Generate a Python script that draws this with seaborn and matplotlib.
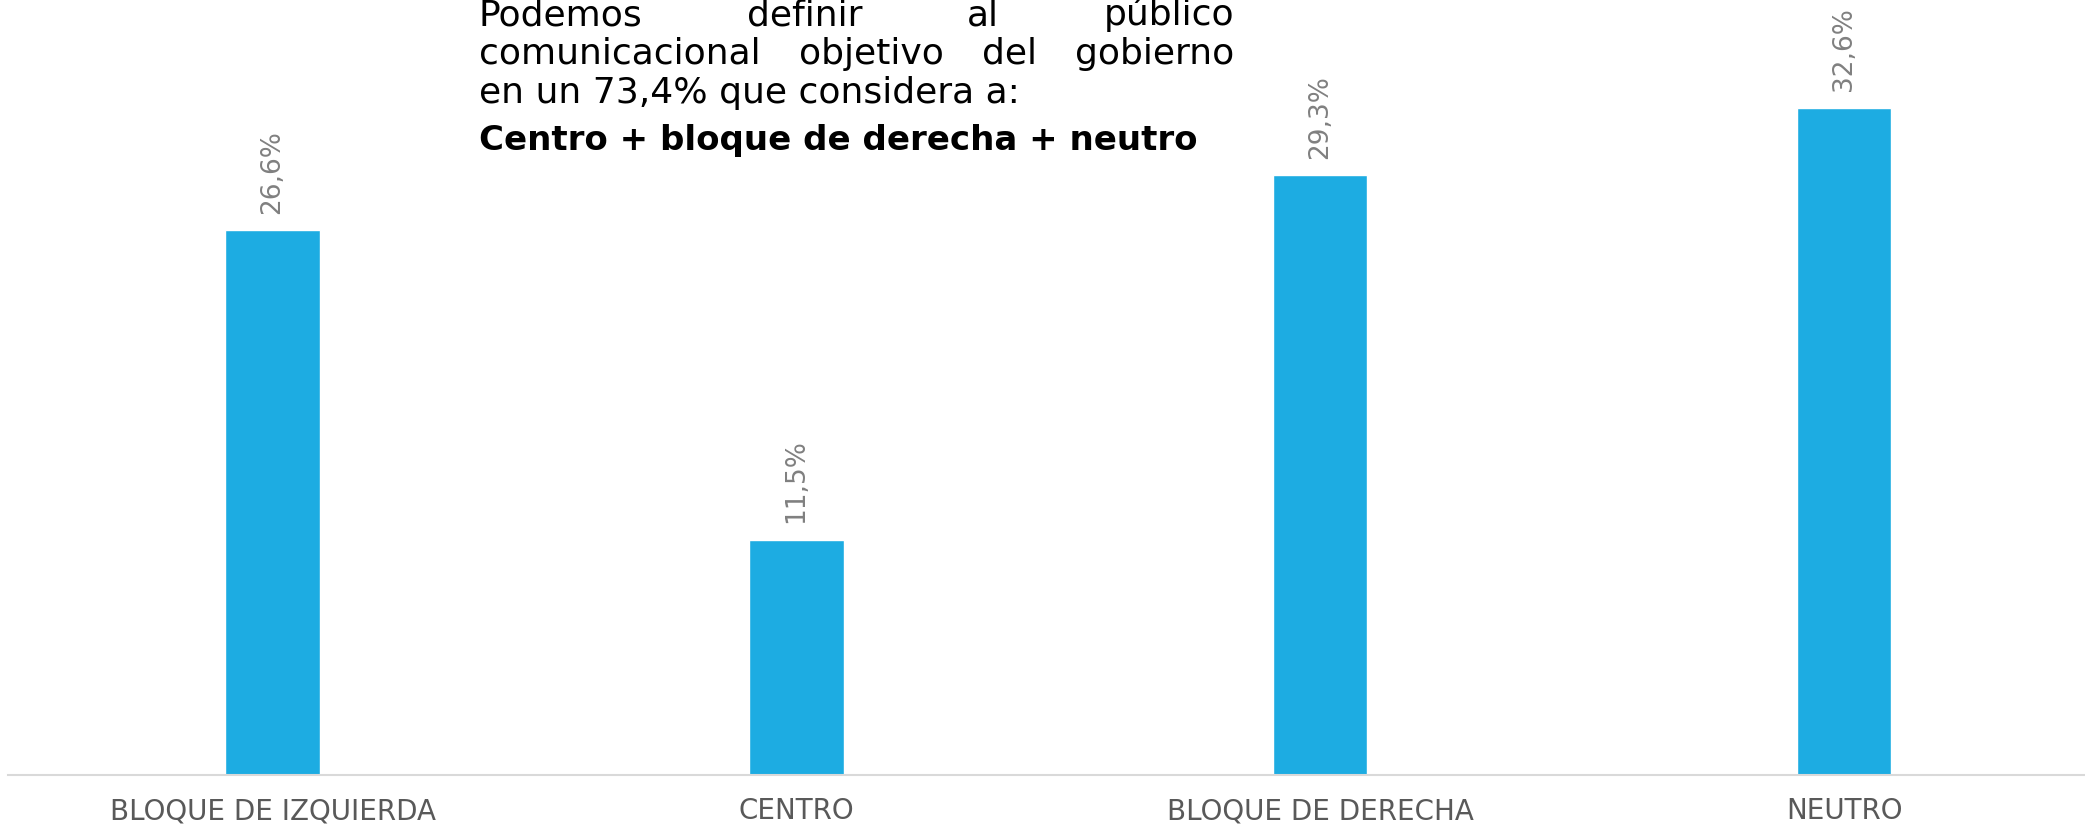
import matplotlib
matplotlib.use('Agg')
import matplotlib.pyplot as plt
import seaborn as sns
import pandas as pd

# datos
categories = ['BLOQUE DE IZQUIERDA', 'CENTRO', 'BLOQUE DE DERECHA', 'NEUTRO']
values = [26.6, 11.5, 29.3, 32.6]
value_labels = [f'{v:.1f}'.replace('.', ',') + '%' for v in values]

note_justified = ['Podemos definir al público', 'comunicacional objetivo del gobierno']
note_plain = 'en un 73,4% que considera a:'
note_bold = 'Centro + bloque de derecha + neutro'

sns.set_theme(style='white')
plt.rcParams['font.family'] = ['DejaVu Sans']

W, H = 2085, 825
fig = plt.figure(figsize=(W / 100, H / 100), dpi=100)
ax = fig.add_axes([8 / W, 50 / H, 1 - 8 / W, 775 / H])

df = pd.DataFrame({'cat': categories, 'val': values})
sns.barplot(data=df, x='cat', y='val', color='#1DACE2', saturation=1, width=0.18, ax=ax)
ax.set_ylim(0, 37.86)
ax.set_xlim(-0.505, 3.46)

ax.bar_label(ax.containers[0], labels=value_labels, rotation=90, padding=12,
             fontsize=19, color='#808080')

for s in ['top', 'left', 'right']:
    ax.spines[s].set_visible(False)
ax.spines['bottom'].set_color('#d9d9d9')
ax.spines['bottom'].set_linewidth(1.5)
ax.set_yticks([])
ax.set_xlabel('')
ax.set_ylabel('')
ax.tick_params(axis='x', length=0, pad=16, labelsize=20, labelcolor='#595959')

# texto justificado arriba
x0, x1 = 479, 1234
baselines = [25, 64, 103, 150]
fig.canvas.draw()
renderer = fig.canvas.get_renderer()
for line, base in zip(note_justified, baselines[:2]):
    words = line.split()
    texts = [fig.text(0, 1 - base / H, w, fontsize=26, color='black', va='baseline')
             for w in words]
    widths = [t.get_window_extent(renderer).width for t in texts]
    gap = (x1 - x0 - sum(widths)) / (len(words) - 1)
    x = x0
    for t, wd in zip(texts, widths):
        t.set_x(x / W)
        x += wd + gap

fig.text(x0 / W, 1 - baselines[2] / H, note_plain, fontsize=26, color='black', va='baseline')
fig.text(x0 / W, 1 - baselines[3] / H, note_bold, fontsize=24.5, fontweight='bold',
         color='black', va='baseline')

fig.savefig('out.png', dpi=100)
